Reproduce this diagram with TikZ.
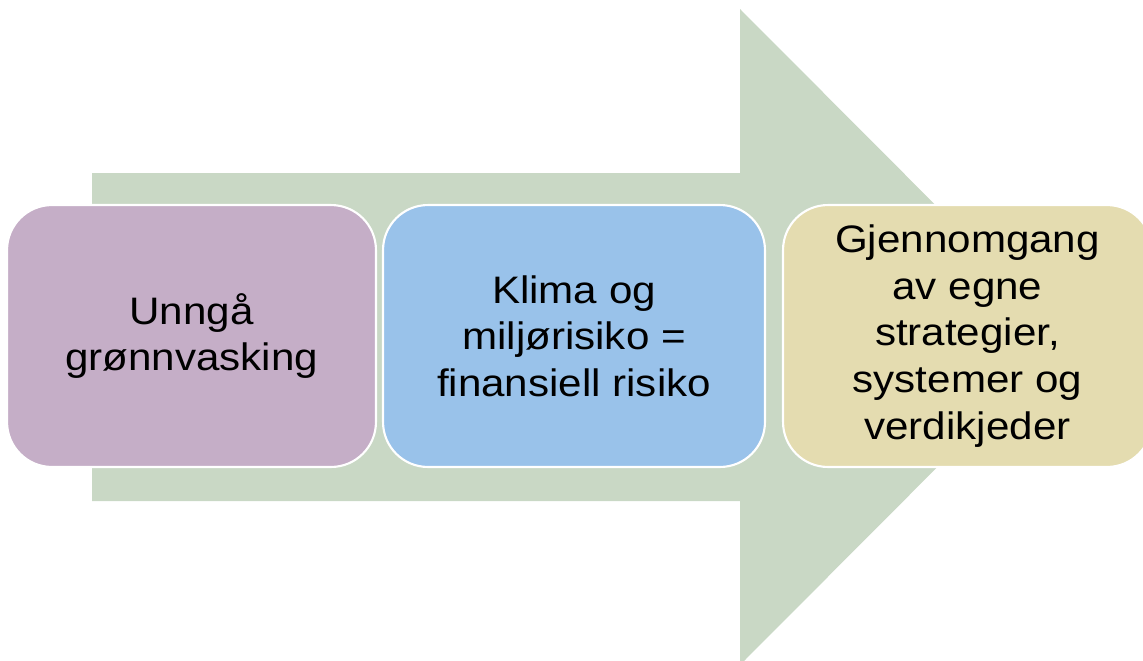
\documentclass[tikz,border=0pt]{standalone}
\usepackage{fontspec}
\setmainfont[FakeStretch=1.1]{Liberation Sans}
\usetikzlibrary{positioning}
\definecolor{ArrowGreen}{RGB}{201,216,197}
\definecolor{Mauve}{RGB}{197,174,199}
\definecolor{SkyBlue}{RGB}{153,194,234}
\definecolor{Sand}{RGB}{228,220,176}

\begin{document}
\begin{tikzpicture}[x=0.02cm, y=-0.02cm,
  stage/.style={draw=white, line width=1.2pt, rounded corners=0.9cm,
    minimum height=5.24cm, inner sep=0pt, align=center,
    font=\fontsize{21.8}{26.5}\selectfont}]

% Frame
\clip (0,0) rectangle (1143,660);

% Big arrow behind the boxes
\coordinate (ShaftTop) at (92,173);
\coordinate (ShaftBot) at (92,501);
\coordinate (Tip) at (1067,337);
\fill[ArrowGreen] (ShaftTop) -- (740,173) -- (740,9) -- (Tip)
  -- (740,665) -- (740,501) -- (ShaftBot) -- cycle;

% Stages
\node[stage, fill=Mauve, minimum width=7.38cm] (Greenwash) at (191.5,336)
  {Unngå\\grønnvasking};
\node[stage, fill=SkyBlue, minimum width=7.64cm] (Risk) at (574,336)
  {Klima og\\miljørisiko =\\finansiell risiko};
\node[stage, fill=Sand, minimum width=7.38cm] (Review) at (967.5,336)
  {Gjennomgang\\av egne\\strategier,\\systemer og\\verdikjeder};

\end{tikzpicture}
\end{document}
